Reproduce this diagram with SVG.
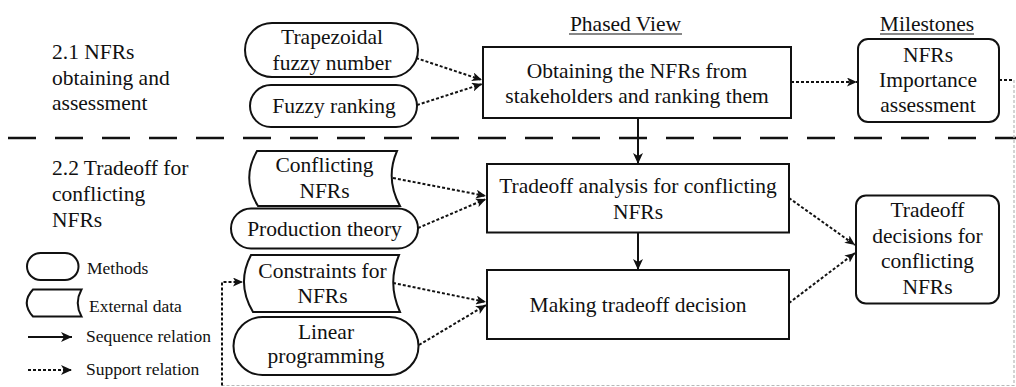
<svg xmlns="http://www.w3.org/2000/svg" width="1016" height="387" viewBox="0 0 1016 387" font-family="'Liberation Serif', Tinos, 'Times New Roman', 'DejaVu Serif', serif">
<defs>
<style>
text{font-family:'Liberation Serif', Tinos, 'Times New Roman', 'DejaVu Serif', serif;fill:#111;}
.t{font-size:21.5px;}
.c{text-anchor:middle;}
.lg{font-size:17.5px;}
.box{fill:#fff;stroke:#111;stroke-width:2;}
.seq{fill:none;stroke:#111;stroke-width:2;}
.sup{fill:none;stroke:#111;stroke-width:2;stroke-dasharray:3 2;}
.grey{fill:none;stroke:#b8b8b8;stroke-width:1.2;stroke-dasharray:3 2;}
</style>
<marker id="ah" markerWidth="12" markerHeight="10" refX="11" refY="5" orient="auto" markerUnits="userSpaceOnUse">
<path d="M0,0 L11,5 L0,10 L3,5 Z" fill="#111"/>
</marker>
<marker id="ahs" markerWidth="11" markerHeight="9" refX="10" refY="4.5" orient="auto" markerUnits="userSpaceOnUse">
<path d="M0,0 L10,4.5 L0,9 L2.5,4.5 Z" fill="#111"/>
</marker>
</defs>

<rect width="1016" height="387" fill="#fff"/>

<g id="phase-labels">
<text class="t" x="52" y="59">2.1 NFRs</text>
<text class="t" x="52" y="84.5">obtaining and</text>
<text class="t" x="52" y="110">assessment</text>
<text class="t" x="52" y="175">2.2 Tradeoff for</text>
<text class="t" x="52" y="201">conflicting</text>
<text class="t" x="52" y="227">NFRs</text>
</g>

<g id="headers">
<text class="t c" x="625.5" y="31">Phased View</text>
<line x1="569" y1="34" x2="682" y2="34" stroke="#111" stroke-width="1.2"/>
<text class="t c" x="927" y="31">Milestones</text>
<line x1="880" y1="34" x2="974" y2="34" stroke="#111" stroke-width="1.2"/>
</g>

<line id="separator" x1="8" y1="138" x2="1016" y2="138" stroke="#111" stroke-width="2.5" stroke-dasharray="28 19"/>

<g id="connectors">
<line class="sup" x1="416" y1="58" x2="482" y2="80" marker-end="url(#ahs)"/>
<line class="sup" x1="417" y1="105" x2="482" y2="84" marker-end="url(#ahs)"/>
<line class="seq" x1="638" y1="118" x2="638" y2="164" marker-end="url(#ah)"/>
<line class="sup" x1="791" y1="82" x2="857" y2="82" marker-end="url(#ahs)"/>
<line class="sup" x1="999" y1="80" x2="1014" y2="80"/>
<polyline class="grey" points="1014,80 1014,385.5 222,385.5"/>
<polyline class="sup" points="222,385.5 222,282 243,282" marker-end="url(#ahs)"/>
<line class="sup" x1="393" y1="178" x2="486" y2="196" marker-end="url(#ahs)"/>
<line class="sup" x1="418" y1="228" x2="486" y2="199" marker-end="url(#ahs)"/>
<line class="seq" x1="638" y1="232.5" x2="638" y2="270" marker-end="url(#ah)"/>
<line class="sup" x1="393" y1="283" x2="486" y2="302" marker-end="url(#ahs)"/>
<line class="sup" x1="419" y1="345" x2="486" y2="305" marker-end="url(#ahs)"/>
<line class="sup" x1="789" y1="198" x2="855" y2="245" marker-end="url(#ahs)"/>
<line class="sup" x1="789" y1="303" x2="855" y2="253" marker-end="url(#ahs)"/>
</g>

<g id="trapezoidal">
<rect class="box" x="245" y="23" width="173" height="54" rx="27" ry="27"/>
<text class="t c" x="332" y="44">Trapezoidal</text>
<text class="t c" x="332" y="69.5">fuzzy number</text>
</g>
<g id="fuzzy-ranking">
<rect class="box" x="250" y="85" width="167" height="42" rx="21" ry="21"/>
<text class="t c" x="334" y="112.5">Fuzzy ranking</text>
</g>
<g id="conflicting-nfrs">
<path class="box" d="M257,151 L397,151 Q385,178.5 400,206 L258,206 Q241,178.5 257,151 Z"/>
<text class="t c" x="324.5" y="172">Conflicting</text>
<text class="t c" x="324.5" y="198">NFRs</text>
</g>
<g id="production-theory">
<rect class="box" x="231" y="208.5" width="187" height="40" rx="20" ry="20"/>
<text class="t c" x="324.5" y="236">Production theory</text>
</g>
<g id="constraints">
<path class="box" d="M251,255 L399,255 Q387,283.5 400,312 L253,312 Q236,283.5 251,255 Z"/>
<text class="t c" x="322.5" y="277.5">Constraints for</text>
<text class="t c" x="322.5" y="303">NFRs</text>
</g>
<g id="linear-programming">
<rect class="box" x="233.5" y="317" width="185" height="58" rx="29" ry="29"/>
<text class="t c" x="326" y="338.5">Linear</text>
<text class="t c" x="326" y="363">programming</text>
</g>

<g id="obtaining">
<rect class="box" x="483" y="47" width="308" height="71"/>
<text class="t c" x="637" y="77.5">Obtaining the NFRs from</text>
<text class="t c" x="637" y="103">stakeholders and ranking them</text>
</g>
<g id="tradeoff-analysis">
<rect class="box" x="487" y="164" width="302" height="68.5"/>
<text class="t c" x="638" y="193">Tradeoff analysis for conflicting</text>
<text class="t c" x="638" y="219">NFRs</text>
</g>
<g id="making-decision">
<rect class="box" x="487" y="270" width="302" height="69"/>
<text class="t c" x="638" y="312">Making tradeoff decision</text>
</g>

<g id="importance-assessment">
<rect class="box" x="858" y="39" width="141" height="83" rx="10" ry="10"/>
<text class="t c" x="928" y="62">NFRs</text>
<text class="t c" x="928" y="87">Importance</text>
<text class="t c" x="928" y="111.5">assessment</text>
</g>
<g id="tradeoff-decisions">
<rect class="box" x="856" y="195.5" width="143" height="108" rx="10" ry="10"/>
<text class="t c" x="927.5" y="217">Tradeoff</text>
<text class="t c" x="927.5" y="242.5">decisions for</text>
<text class="t c" x="927.5" y="267.5">conflicting</text>
<text class="t c" x="927.5" y="293.5">NFRs</text>
</g>

<g id="legend">
<rect class="box" x="27" y="253" width="51.5" height="27" rx="13.5" ry="13.5"/>
<text class="lg" x="87" y="274">Methods</text>
<path class="box" d="M33,289.5 L81.5,289.5 Q74,303 81.5,316.5 L33,316.5 Q20.5,303 33,289.5 Z"/>
<text class="lg" x="89" y="311.5">External data</text>
<line class="seq" x1="28" y1="337" x2="72" y2="337" marker-end="url(#ah)"/>
<text class="lg" x="86" y="342">Sequence relation</text>
<line class="sup" x1="28" y1="370" x2="72" y2="370" marker-end="url(#ah)"/>
<text class="lg" x="86" y="375">Support relation</text>
</g>
</svg>
